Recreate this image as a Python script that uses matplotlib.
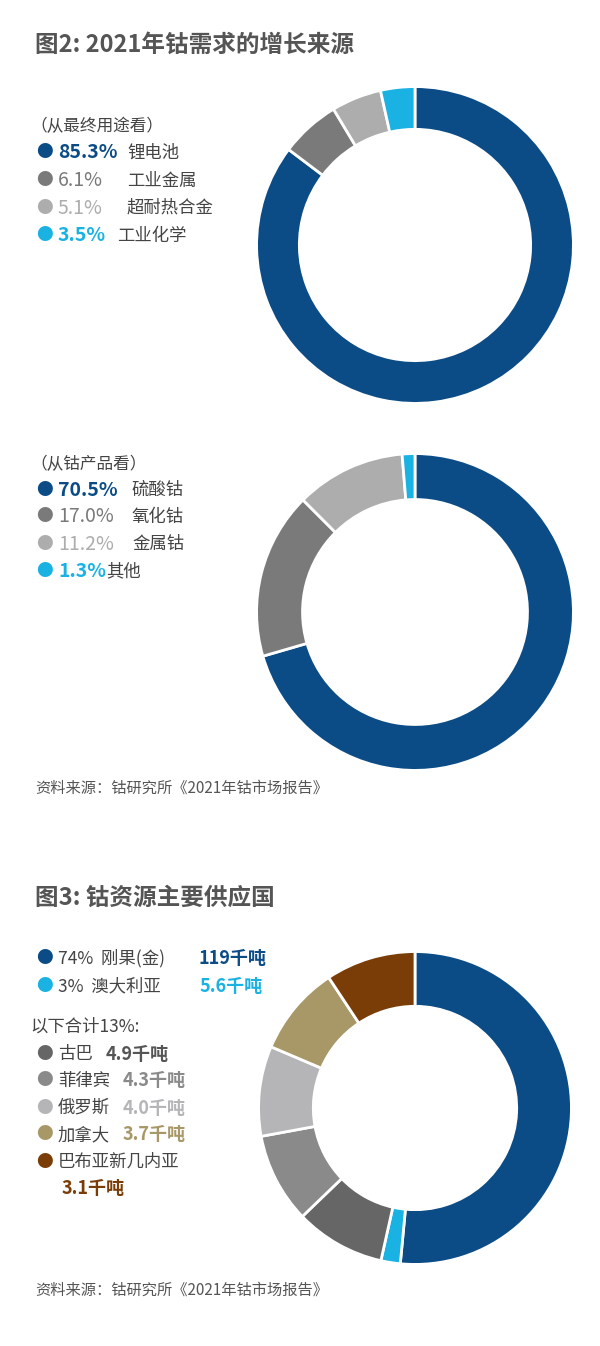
import matplotlib
matplotlib.use("Agg")
import matplotlib.pyplot as plt

plt.rcParams['font.family'] = ['Noto Sans CJK SC', 'DejaVu Sans']

W, H = 600, 1346
use_labels = ["锂电池", "工业金属", "超耐热合金", "工业化学"]
use_pct = [85.3, 6.1, 5.1, 3.5]
prod_labels = ["硫酸钴", "氧化钴", "金属钴", "其他"]
prod_pct = [70.5, 17.0, 11.2, 1.3]
sup_labels = ["刚果(金)", "澳大利亚", "古巴", "菲律宾", "俄罗斯", "加拿大", "巴布亚新几内亚"]
sup_pct = [74, 3]
sup_kt = [119, 5.6, 4.9, 4.3, 4.0, 3.7, 3.1]
sup_drawn = [51.5, 2.0, 9.3, 9.3, 9.3, 9.3, 9.3]  # arc shares as drawn in the picture

DB, G, LG, CY = "#0b4c86", "#7a7a7a", "#adadad", "#19b2e3"
DG, MG, LG2, TAN, BR = "#666666", "#8a8a8a", "#b5b5b8", "#a89868", "#7a3d08"
TXT = "#444444"

fig = plt.figure(figsize=(6, 13.46), dpi=100)

def T(x, y, s, **kw):
    fig.text(x / W, 1 - y / H, s, va='center', **kw)

def donut(cx, cy, R, vals, cols, width):
    ax = fig.add_axes([(cx - R) / W, 1 - (cy + R) / H, 2 * R / W, 2 * R / H])
    ax.pie(vals, colors=cols, startangle=90, counterclock=False, radius=1,
           wedgeprops=dict(width=width, edgecolor='white', linewidth=2))
    ax.set_xlim(-1.01, 1.01); ax.set_ylim(-1.01, 1.01); ax.set_aspect('equal'); ax.axis('off')

cols1 = [DB, G, LG, CY]

# Figure 2
T(35, 45, "图2: 2021年钴需求的增长来源", fontsize=17, fontweight='bold', color="#555555")
donut(415, 245, 160, use_pct, cols1, 0.27)
T(30, 127, "（从最终用途看）", fontsize=12, color=TXT)
for i, (p, l) in enumerate(zip(use_pct, use_labels)):
    y = 153 + i * 27.5
    T(44, y, "●", fontsize=12, color=cols1[i], ha='center')
    T(58, y, f"{p}%", fontsize=14, color=cols1[i], fontweight='bold' if i in (0, 3) else 'normal')
    T(127 if i != 3 else 117, y, l, fontsize=12.5, color=TXT)

donut(415, 612, 160, prod_pct, cols1, 0.29)
T(30, 465, "（从钴产品看）", fontsize=12, color=TXT)
for i, (p, l) in enumerate(zip(prod_pct, prod_labels)):
    y = 490 + i * 27
    T(44, y, "●", fontsize=12, color=cols1[i], ha='center')
    T(58, y, f"{p}%", fontsize=14, color=cols1[i], fontweight='bold' if i in (0, 3) else 'normal')
    T(132 if i != 3 else 106, y, l, fontsize=12.5, color=TXT)
T(35, 788, "资料来源：钴研究所《2021年钴市场报告》", fontsize=11, color="#555555", style='italic')

# Figure 3
T(35, 898, "图3: 钴资源主要供应国", fontsize=17, fontweight='bold', color="#555555")
cols3 = [DB, CY, DG, MG, LG2, TAN, BR]
donut(415, 1108, 158, sup_drawn, cols3, 0.35)
T(44, 958, "●", fontsize=12, color=DB, ha='center')
T(58, 958, f"{sup_pct[0]}%  {sup_labels[0]}", fontsize=12.5, color=TXT)
T(198, 958, f"{sup_kt[0]:g}千吨", fontsize=13, color=DB, fontweight='bold')
T(44, 986, "●", fontsize=12, color=CY, ha='center')
T(58, 986, f"{sup_pct[1]}%  {sup_labels[1]}", fontsize=12.5, color=TXT)
T(200, 986, f"{sup_kt[1]:g}千吨", fontsize=13, color=CY, fontweight='bold')
T(30, 1027, "以下合计13%:", fontsize=12.5, color=TXT)
for j, i in enumerate(range(2, 6)):
    y = 1054 + j * 27
    T(44, y, "●", fontsize=12, color=cols3[i], ha='center')
    T(58, y, sup_labels[i], fontsize=12.5, color=TXT)
    T(58 + 17 * len(sup_labels[i]) + 14, y, f"{sup_kt[i]:.1f}千吨", fontsize=13,
      color=cols3[i] if i != 2 else "#555555", fontweight='bold')
T(44, 1162, "●", fontsize=12, color=BR, ha='center')
T(58, 1162, sup_labels[6], fontsize=12.5, color=TXT)
T(62, 1189, f"{sup_kt[6]:g}千吨", fontsize=13, color=BR, fontweight='bold')
T(35, 1290, "资料来源：钴研究所《2021年钴市场报告》", fontsize=11, color="#555555", style='italic')

fig.savefig("out.png", dpi=100)
